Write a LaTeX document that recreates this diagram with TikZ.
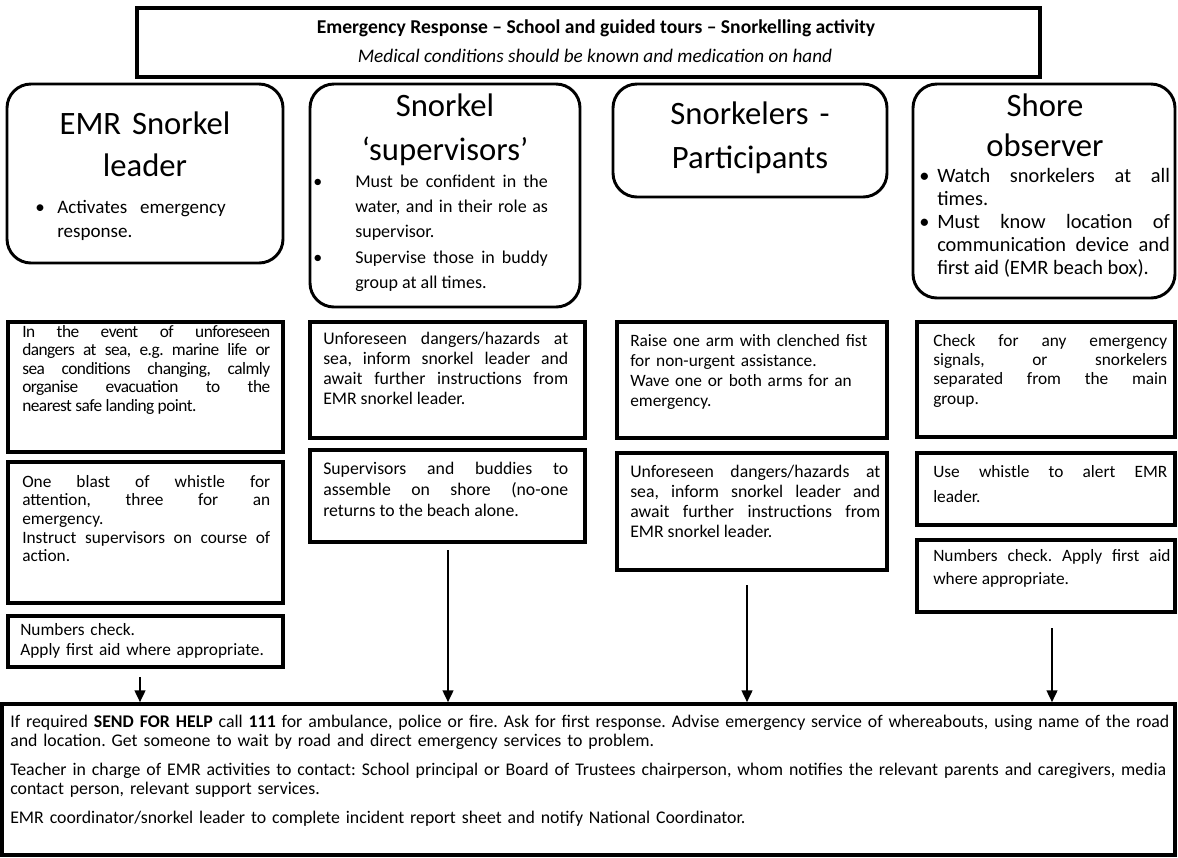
\documentclass[tikz,border=0pt]{standalone}
\usepackage{fontspec}
\setmainfont{Carlito}
\usetikzlibrary{fit,arrows.meta}
\newcommand{\bul}[2]{\noindent\hangindent=#1\hangafter=1\makebox[#1][l]{\textbullet}#2\par}
\begin{document}
\begin{tikzpicture}[x=0.75pt,y=-0.75pt,
  rbox/.style={draw, line width=2.2pt, rounded corners=18pt, inner sep=0pt},
  sbox/.style={draw, line width=3.2pt, inner sep=0pt},
  tbox/.style={draw, line width=2.4pt, inner sep=0pt},
  txt/.style={inner sep=0pt, anchor=base west},
  head/.style={inner sep=0pt, anchor=base, text width=200pt, align=center},
  arr/.style={line width=1.8pt, -{Triangle[length=9pt,width=8pt]}}]
\useasboundingbox (0,0) rectangle (1178,857);
\frenchspacing
% title
\node[tbox, fit={(137,8)(1040,77)}] (T) {};
\node[inner sep=0pt, anchor=base, font=\fontsize{14.7}{17}\selectfont\bfseries] (tt1) at (596,33) {Emergency Response – School and guided tours – Snorkelling activity};
\node[inner sep=0pt, anchor=base, font=\fontsize{14.4}{17}\selectfont\itshape] (tt2) at (595,62) {Medical conditions should be known and medication on hand};
% rounded role boxes
\node[rbox, fit={(7,84)(283,263)}] (b1) {};
\node[rbox, fit={(310,84)(580,307)}] (b2) {};
\node[rbox, fit={(613,84)(887,197)}] (b3) {};
\node[rbox, fit={(913,84)(1175,298)}] (b4) {};
\node[head, font=\fontsize{24.5}{31.5}\selectfont] (h1) at (145,134) {EMR Snorkel\\leader};
\node[head, font=\fontsize{24.5}{33}\selectfont] (h2) at (445,116) {Snorkel\\‘supervisors’};
\node[head, font=\fontsize{24.5}{33}\selectfont] (h3) at (750,124) {Snorkelers -\\Participants};
\node[head, font=\fontsize{24.5}{30}\selectfont] (h4) at (1045,116) {Shore\\observer};
\node[txt, text width=180pt, align=left, font=\fontsize{14.3}{18}\selectfont] (bl1) at (35,213)
  {\bul{16.5pt}{Activates\ \ emergency\newline response.}};
\node[txt, text width=176pt, align=justify, font=\fontsize{13.5}{19}\selectfont] (bl2) at (313,187)
  {\bul{31.5pt}{Must be confident in the\linebreak water, and in their role as\linebreak supervisor.}
   \bul{31.5pt}{Supervise those in buddy\linebreak group at all times.}};
\node[txt, text width=188pt, align=justify, font=\fontsize{15.3}{17.25}\selectfont] (bl4) at (919,182)
  {\bul{13.5pt}{Watch snorkelers at all\linebreak times.}
   \bul{13.5pt}{Must know location of\linebreak communication device and\linebreak first aid (EMR beach box).}};
% column 1
\node[sbox, fit={(8,322)(283,452)}] (A) {};
\node[sbox, fit={(8,462)(283,603)}] (B) {};
\node[sbox, fit={(8,616)(283,667)}] (C) {};
\node[txt, text width=186pt, align=justify, font=\fontsize{13}{13.9}\selectfont\addfontfeatures{LetterSpace=-3}] (tA) at (22,337)
  {In the event of unforeseen\linebreak dangers at sea, e.g. marine life or\linebreak sea conditions changing, calmly\linebreak organise evacuation to the\linebreak nearest safe landing point.};
\node[txt, text width=186pt, align=justify, font=\fontsize{13}{14}\selectfont] (tB) at (22,487)
  {One blast of whistle for\linebreak attention, three for an\linebreak emergency.\par Instruct supervisors on course of\linebreak action.};
\node[txt, text width=200pt, align=left, font=\fontsize{13}{15}\selectfont] (tC) at (20,635)
  {Numbers check.\newline Apply first aid where appropriate.};
% column 2
\node[sbox, fit={(310,322)(585,438)}] (D) {};
\node[sbox, fit={(310,450)(585,542)}] (E) {};
\node[txt, text width=183.75pt, align=justify, font=\fontsize{13.3}{15}\selectfont] (tD) at (323,344)
  {Unforeseen dangers/hazards at\linebreak sea, inform snorkel leader and\linebreak await further instructions from\linebreak EMR snorkel leader.};
\node[txt, text width=183.75pt, align=justify, font=\fontsize{13.3}{15.75}\selectfont] (tE) at (323,474)
  {Supervisors and buddies to\linebreak assemble on shore (no-one\linebreak returns to the beach alone.};
% column 3
\node[sbox, fit={(617,322)(887,438)}] (F) {};
\node[sbox, fit={(617,453)(887,570)}] (G) {};
\node[txt, text width=190pt, align=left, font=\fontsize{13}{15.2}\selectfont] (tF) at (630,346)
  {Raise one arm with clenched fist\newline for non-urgent assistance.\newline Wave one or both arms for an\newline emergency.};
\node[txt, text width=187.5pt, align=justify, font=\fontsize{13.3}{15}\selectfont] (tG) at (630,477)
  {Unforeseen dangers/hazards at\linebreak sea, inform snorkel leader and\linebreak await further instructions from\linebreak EMR snorkel leader.};
% column 4
\node[sbox, fit={(917,322)(1175,437)}] (H) {};
\node[sbox, fit={(917,453)(1175,525)}] (I) {};
\node[sbox, fit={(917,540)(1175,612)}] (J) {};
\node[txt, text width=175.5pt, align=justify, font=\fontsize{13}{14.5}\selectfont] (tH) at (933,346)
  {Check for any emergency\linebreak signals, or snorkelers\linebreak separated from the main\linebreak group.};
\node[txt, text width=175.5pt, align=justify, font=\fontsize{13}{18.75}\selectfont] (tI) at (933,477)
  {Use whistle to alert EMR\linebreak leader.};
\node[txt, text width=178pt, align=justify, font=\fontsize{13}{17.25}\selectfont] (tJ) at (933,561)
  {Numbers check. Apply first aid\linebreak where appropriate.};
% bottom box
\node[sbox, line width=2.6pt, fit={(2,704)(1175,855)}] (Z) {};
\node[txt, text width=885pt, align=left, font=\fontsize{13.35}{14.4}\selectfont] (tZ) at (10,727)
  {\setlength{\parskip}{7.5pt}If required \textbf{SEND FOR HELP} call \textbf{111} for ambulance, police or fire. Ask for first response. Advise emergency service of whereabouts, using name of the road\newline and location. Get someone to wait by road and direct emergency services to problem.\par
   Teacher in charge of EMR activities to contact: School principal or Board of Trustees chairperson, whom notifies the relevant parents and caregivers, media\newline contact person, relevant support services.\par
   EMR coordinator/snorkel leader to complete incident report sheet and notify National Coordinator.};
% arrows
\coordinate (s1) at (140,677);
\coordinate (s2) at (448,550);
\coordinate (s3) at (747,585);
\coordinate (s4) at (1052,628);
\draw[arr] (s1) -- (s1 |- Z.north);
\draw[arr] (s2) -- (s2 |- Z.north);
\draw[arr] (s3) -- (s3 |- Z.north);
\draw[arr] (s4) -- (s4 |- Z.north);
\end{tikzpicture}
\end{document}
